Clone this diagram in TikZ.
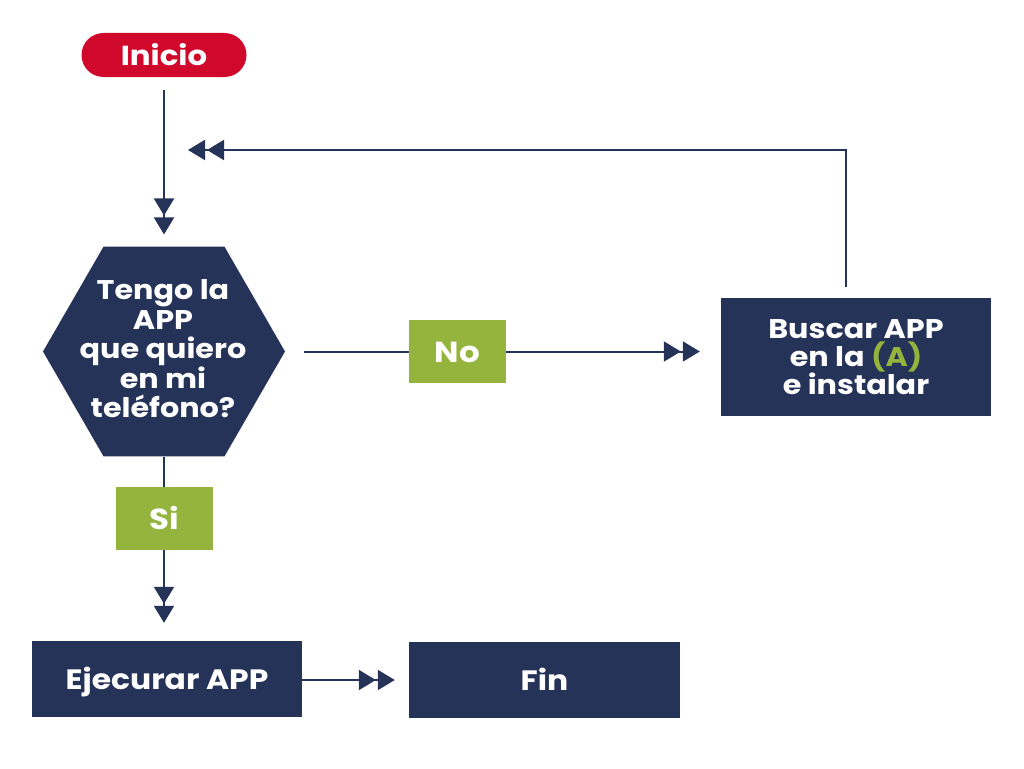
\documentclass[tikz,border=0pt]{standalone}
\usepackage{fontspec}
\setmainfont{Poppins}[FakeStretch=1.12]
\usetikzlibrary{arrows.meta,shapes.geometric}
\definecolor{navy}{HTML}{253359}
\definecolor{iniciored}{HTML}{D0092C}
\definecolor{answergreen}{HTML}{94B43D}
\begin{document}
\begin{tikzpicture}[
			x=1pt, y=-1pt,
			every node/.style={text=white, inner sep=0pt},
			oneline/.style={text height=21pt, text depth=0pt},
			startbox/.style={oneline, fill=iniciored, rounded corners=22pt, minimum width=165pt, minimum height=44pt, font=\bfseries\fontsize{27.5}{27.5}\selectfont},
			procbox/.style={fill=navy, minimum width=270pt, minimum height=76pt, align=center, font=\bfseries\fontsize{28}{28}\selectfont},
			decbox/.style={regular polygon, regular polygon sides=6, fill=navy, minimum size=242pt},
			dectext/.style={align=center, font=\bfseries\fontsize{27}{29.5}\selectfont},
			answer/.style={oneline, fill=answergreen, minimum width=97pt, minimum height=63pt, font=\bfseries\fontsize{29}{29}\selectfont},
			link/.style={draw=navy, line width=2pt},
			dblarrow/.style={link, -{Triangle[length=17pt,width=20pt,sep=2pt]Triangle[length=17pt,width=20pt]}}
			]
			\useasboundingbox (0,0) rectangle (1024,768);
			% nodes
			\node[startbox] (inicio) at (164,55) {Inicio};
			\node[decbox] (hex) at (164,351.5) {};
			\node[dectext] (hextext) at (163,349) {Tengo la\\APP\\que quiero\\en mi\\teléfono?};
			\node[answer] (no) at (457.5,351.5) {No};
			\node[procbox, minimum height=118pt, font=\bfseries\fontsize{27}{28}\selectfont] (buscar) at (856,357) {Buscar APP\\en la \textcolor{answergreen}{(A)}\\ e instalar};
			\node[answer] (si) at (164,518.5) {Si};
			\node[procbox, oneline] (ejecutar) at (167,679) {Ejecurar APP};
			\node[procbox, oneline, minimum width=271pt] (fin) at (544.5,680) {Fin};
			\coordinate (loopend) at (188,150);
			% connectors
			\draw[dblarrow, shorten <=13pt, shorten >=12pt] (inicio.south) -- (hex.north);
			\draw[link, shorten <=19pt] (hex.east) -- (no.west);
			\draw[dblarrow, shorten >=21pt] (no.east) -- (no.east -| buscar.west);
			\draw[dblarrow, shorten <=11pt] ([xshift=-10pt]buscar.north) |- (loopend);
			\draw[link] (hex.south) -- (si.north);
			\draw[dblarrow, shorten >=18pt] (si.south) -- (ejecutar.north -| si.south);
			\draw[dblarrow, shorten >=14pt] (ejecutar.east |- fin.west) -- (fin.west);
		\end{tikzpicture}
\end{document}
